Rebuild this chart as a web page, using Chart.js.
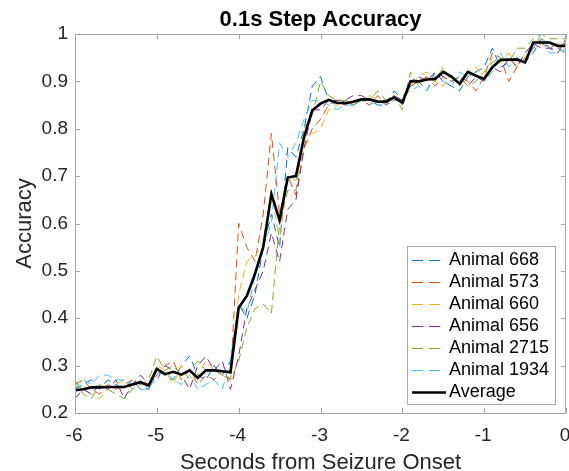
<!DOCTYPE html>
<html>
<head>
<meta charset="utf-8">
<script src="https://cdn.jsdelivr.net/npm/chart.js@4/dist/chart.umd.min.js"></script>
<style>
  html, body { margin: 0; padding: 0; background: #fff; }
  canvas { display: block; }
</style>
</head>
<body>
<canvas id="accChart" width="569" height="471"></canvas>
<script>
// time from seizure onset (s), 0.1 s steps
const times = [
  -6.0, -5.9, -5.8, -5.7, -5.6, -5.5, -5.4, -5.3, -5.2, -5.1,
  -5.0, -4.9, -4.8, -4.7, -4.6, -4.5, -4.4, -4.3, -4.2, -4.1,
  -4.0, -3.9, -3.8, -3.7, -3.6, -3.5, -3.4, -3.3, -3.2, -3.1,
  -3.0, -2.9, -2.8, -2.7, -2.6, -2.5, -2.4, -2.3, -2.2, -2.1,
  -2.0, -1.9, -1.8, -1.7, -1.6, -1.5, -1.4, -1.3, -1.2, -1.1,
  -1.0, -0.9, -0.8, -0.7, -0.6, -0.5, -0.4, -0.3, -0.2, -0.1,
  0.0
];

const animal668 = [
  0.25, 0.26, 0.27, 0.25, 0.27, 0.26, 0.25, 0.27, 0.26, 0.25,
  0.29, 0.28, 0.27, 0.30, 0.32, 0.28, 0.27, 0.30, 0.28, 0.31,
  0.43, 0.40, 0.45, 0.55, 0.62, 0.55, 0.76, 0.74, 0.80, 0.89,
  0.91, 0.86, 0.85, 0.86, 0.85, 0.86, 0.86, 0.85, 0.85, 0.88,
  0.86, 0.89, 0.90, 0.88, 0.92, 0.90, 0.89, 0.88, 0.91, 0.92,
  0.93, 0.97, 0.93, 0.94, 0.95, 0.94, 0.96, 0.99, 0.97, 0.97,
  0.96
];
const animal573 = [
  0.26, 0.27, 0.25, 0.24, 0.26, 0.25, 0.26, 0.27, 0.25, 0.26,
  0.28, 0.30, 0.31, 0.27, 0.29, 0.26, 0.28, 0.27, 0.29, 0.27,
  0.60, 0.55, 0.52, 0.62, 0.79, 0.62, 0.70, 0.66, 0.76, 0.80,
  0.82, 0.85, 0.86, 0.85, 0.86, 0.86, 0.85, 0.87, 0.85, 0.86,
  0.86, 0.89, 0.90, 0.91, 0.89, 0.91, 0.90, 0.91, 0.90, 0.88,
  0.91, 0.96, 0.95, 0.90, 0.93, 0.95, 0.97, 0.98, 0.97, 0.98,
  0.98
];
const animal660 = [
  0.26, 0.25, 0.24, 0.23, 0.25, 0.26, 0.27, 0.25, 0.27, 0.26,
  0.30, 0.29, 0.26, 0.30, 0.27, 0.28, 0.31, 0.29, 0.28, 0.27,
  0.45, 0.52, 0.53, 0.56, 0.67, 0.56, 0.70, 0.69, 0.76, 0.79,
  0.80, 0.84, 0.85, 0.86, 0.85, 0.86, 0.87, 0.86, 0.86, 0.87,
  0.85, 0.89, 0.91, 0.92, 0.90, 0.89, 0.91, 0.89, 0.92, 0.93,
  0.91, 0.95, 0.94, 0.96, 0.93, 0.96, 0.98, 0.99, 0.98, 0.97,
  0.98
];
const animal656 = [
  0.23, 0.25, 0.24, 0.26, 0.25, 0.27, 0.23, 0.26, 0.28, 0.26,
  0.27, 0.30, 0.29, 0.28, 0.25, 0.30, 0.32, 0.29, 0.31, 0.25,
  0.32, 0.42, 0.46, 0.50, 0.58, 0.52, 0.63, 0.65, 0.76, 0.84,
  0.84, 0.86, 0.86, 0.86, 0.87, 0.87, 0.86, 0.86, 0.86, 0.87,
  0.86, 0.90, 0.91, 0.90, 0.92, 0.91, 0.90, 0.91, 0.89, 0.91,
  0.90, 0.93, 0.92, 0.95, 0.93, 0.96, 0.98, 0.97, 0.97, 0.96,
  0.99
];
const animal2715 = [
  0.27, 0.24, 0.23, 0.26, 0.25, 0.24, 0.23, 0.25, 0.26, 0.27,
  0.32, 0.29, 0.30, 0.28, 0.29, 0.31, 0.29, 0.29, 0.28, 0.27,
  0.31, 0.38, 0.42, 0.43, 0.41, 0.60, 0.67, 0.67, 0.80, 0.83,
  0.90, 0.87, 0.86, 0.86, 0.85, 0.86, 0.86, 0.88, 0.86, 0.87,
  0.84, 0.92, 0.89, 0.91, 0.90, 0.93, 0.90, 0.91, 0.89, 0.90,
  0.92, 0.94, 0.95, 0.94, 0.97, 0.97, 0.99, 1.00, 0.99, 0.99,
  0.99
];
const animal1934 = [
  0.25, 0.27, 0.26, 0.28, 0.28, 0.27, 0.27, 0.26, 0.25, 0.25,
  0.28, 0.29, 0.27, 0.26, 0.28, 0.25, 0.26, 0.27, 0.25, 0.31,
  0.43, 0.41, 0.49, 0.55, 0.60, 0.77, 0.74, 0.77, 0.82, 0.86,
  0.86, 0.85, 0.84, 0.85, 0.85, 0.86, 0.85, 0.86, 0.85, 0.86,
  0.87, 0.88, 0.89, 0.88, 0.91, 0.90, 0.89, 0.92, 0.91, 0.92,
  0.90, 0.92, 0.96, 0.93, 0.95, 0.94, 0.97, 1.00, 0.96, 0.96,
  0.97
];
const average = [
  0.248, 0.250, 0.254, 0.254, 0.255, 0.255, 0.255, 0.260, 0.265, 0.258,
  0.293, 0.282, 0.287, 0.281, 0.290, 0.274, 0.290, 0.290, 0.288, 0.286,
  0.422, 0.447, 0.494, 0.550, 0.662, 0.607, 0.697, 0.700, 0.783, 0.839,
  0.853, 0.861, 0.855, 0.854, 0.857, 0.862, 0.862, 0.857, 0.857, 0.866,
  0.855, 0.900, 0.900, 0.904, 0.905, 0.920, 0.910, 0.895, 0.920, 0.912,
  0.905, 0.930, 0.945, 0.946, 0.946, 0.940, 0.982, 0.982, 0.982, 0.975,
  0.975
];

const seriesNames = ['Animal 668', 'Animal 573', 'Animal 660', 'Animal 656', 'Animal 2715', 'Animal 1934', 'Average'];
const seriesValues = [animal668, animal573, animal660, animal656, animal2715, animal1934, average];
const seriesColors = ['#0072BD', '#D95319', '#EDB120', '#7E2F8E', '#77AC30', '#4DBEEE', '#000000'];

const xTicks = [-6, -5, -4, -3, -2, -1, 0];
const yTicks = [0.2, 0.3, 0.4, 0.5, 0.6, 0.7, 0.8, 0.9, 1];
const yTickLabels = ['0.2', '0.3', '0.4', '0.5', '0.6', '0.7', '0.8', '0.9', '1'];

const FONT = '"Liberation Sans", Arial, Helvetica, sans-serif';
const TEXT = '#262626';
const AXIS = '#a6a6a6';

const datasets = seriesNames.map((name, i) => {
  const isAvg = name === 'Average';
  return {
    label: name,
    data: times.map((t, k) => ({ x: t, y: seriesValues[i][k] })),
    borderColor: seriesColors[i],
    borderWidth: isAvg ? 2.6 : 1,
    borderDash: isAvg ? [] : [8, 5],
    pointRadius: 0,
    tension: 0,
    fill: false,
    order: isAvg ? 0 : seriesNames.length - 1 - i
  };
});

// axes box, inward ticks, labels, titles and legend (MATLAB look)
const matlabAxes = {
  id: 'matlabAxes',
  afterDraw(chart) {
    const ctx = chart.ctx;
    const area = chart.chartArea;
    const xs = chart.scales.x;
    const ys = chart.scales.y;
    const tick = 5;

    ctx.save();
    ctx.strokeStyle = AXIS;
    ctx.lineWidth = 1;
    ctx.strokeRect(Math.round(area.left) + 0.5, Math.round(area.top) + 0.5,
      Math.round(area.right - area.left) - 1, Math.round(area.bottom - area.top));

    ctx.beginPath();
    xTicks.forEach(v => {
      const px = Math.round(xs.getPixelForValue(v)) + 0.5;
      ctx.moveTo(px, area.bottom); ctx.lineTo(px, area.bottom - tick);
      ctx.moveTo(px, area.top); ctx.lineTo(px, area.top + tick);
    });
    yTicks.forEach(v => {
      const py = Math.round(ys.getPixelForValue(v)) + 0.5;
      ctx.moveTo(area.left, py); ctx.lineTo(area.left + tick, py);
      ctx.moveTo(area.right, py); ctx.lineTo(area.right - tick, py);
    });
    ctx.stroke();

    // tick labels
    ctx.fillStyle = TEXT;
    ctx.font = '19px ' + FONT;
    ctx.textAlign = 'center';
    ctx.textBaseline = 'alphabetic';
    xTicks.forEach(v => {
      ctx.fillText(String(v), xs.getPixelForValue(v) - 1, area.bottom + 28);
    });
    ctx.textAlign = 'right';
    ctx.textBaseline = 'middle';
    yTicks.forEach((v, i) => {
      ctx.fillText(yTickLabels[i], area.left - 7, ys.getPixelForValue(v));
    });

    // titles
    ctx.textAlign = 'center';
    ctx.textBaseline = 'alphabetic';
    ctx.fillStyle = '#000000';
    ctx.font = 'bold 22px ' + FONT;
    ctx.fillText('0.1s Step Accuracy', (area.left + area.right) / 2, 26);
    ctx.fillStyle = TEXT;
    ctx.font = '22px ' + FONT;
    ctx.fillText('Seconds from Seizure Onset', (area.left + area.right) / 2, 469);
    ctx.save();
    ctx.translate(31, (area.top + area.bottom) / 2);
    ctx.rotate(-Math.PI / 2);
    ctx.fillText('Accuracy', 0, 0);
    ctx.restore();

    // legend box
    const lx = 407, ly = 246, lw = 148, lh = 158, rowH = 22;
    ctx.fillStyle = '#ffffff';
    ctx.fillRect(lx, ly, lw, lh);
    ctx.strokeStyle = AXIS;
    ctx.strokeRect(lx + 0.5, ly + 0.5, lw, lh);
    ctx.font = '18px ' + FONT;
    ctx.textAlign = 'left';
    ctx.textBaseline = 'middle';
    chart.data.datasets.forEach((ds, i) => {
      const cy = ly + 13.5 + i * rowH;
      ctx.beginPath();
      ctx.strokeStyle = ds.borderColor;
      ctx.lineWidth = ds.borderWidth;
      ctx.setLineDash(ds.borderDash.length ? [11, 6] : []);
      ctx.moveTo(412, Math.round(cy) + 0.5);
      ctx.lineTo(ds.borderDash.length ? 442 : 446, Math.round(cy) + 0.5);
      ctx.stroke();
      ctx.setLineDash([]);
      ctx.fillStyle = '#000000';
      ctx.fillText(ds.label, 449, cy + 1);
    });
    ctx.restore();
  }
};

const chart = new Chart(document.getElementById('accChart').getContext('2d'), {
  type: 'line',
  data: { datasets },
  options: {
    responsive: false,
    animation: false,
    devicePixelRatio: 1,
    layout: { padding: { left: 75, right: 3, top: 34, bottom: 58 } },
    scales: {
      x: { type: 'linear', min: -6, max: 0, display: false },
      y: { type: 'linear', min: 0.2, max: 1, display: false }
    },
    plugins: {
      legend: { display: false },
      title: { display: false },
      tooltip: { enabled: false }
    }
  },
  plugins: [matlabAxes]
});
</script>
</body>
</html>
